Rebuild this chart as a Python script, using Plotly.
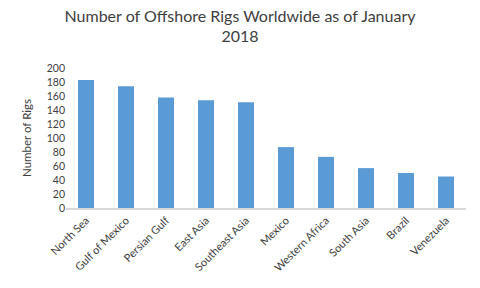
import plotly.graph_objects as go

regions = ["North Sea", "Gulf of Mexico", "Persian Gulf", "East Asia", "Southeast Asia",
           "Mexico", "Western Africa", "South Asia", "Brazil", "Venezuela"]
rigs = [183, 174, 158, 154, 151, 87, 73, 57, 50, 45]
y_ticks = [0, 20, 40, 60, 80, 100, 120, 140, 160, 180, 200]

fig = go.Figure(go.Bar(x=regions, y=rigs, marker_color="#5B9BD5", marker_line_width=0))

fig.update_layout(
    width=480, height=288,
    margin=dict(l=66, r=14, t=68, b=80),
    paper_bgcolor="white", plot_bgcolor="white",
    bargap=0.6,
    font=dict(family="Lato, Open Sans, sans-serif", color="#595959", size=10),
    title=dict(text="Number of Offshore Rigs Worldwide as of January<br>2018",
               x=0.5, xanchor="center", y=0.925, yanchor="middle",
               font=dict(size=16, color="#404040")),
    showlegend=False,
)
fig.update_xaxes(showline=True, linecolor="#D9D9D9", linewidth=1.5, tickangle=-45,
                 ticks="", showgrid=False, tickfont=dict(size=11, color="#404040"))
fig.update_yaxes(range=[0, 200], tickvals=y_ticks, showgrid=False, zeroline=False,
                 showline=False, ticks="", tickfont=dict(size=10.5, color="#404040"),
                 title=dict(text="Number of Rigs", font=dict(size=11.5, color="#404040"), standoff=12))

fig.write_html("out.html")
